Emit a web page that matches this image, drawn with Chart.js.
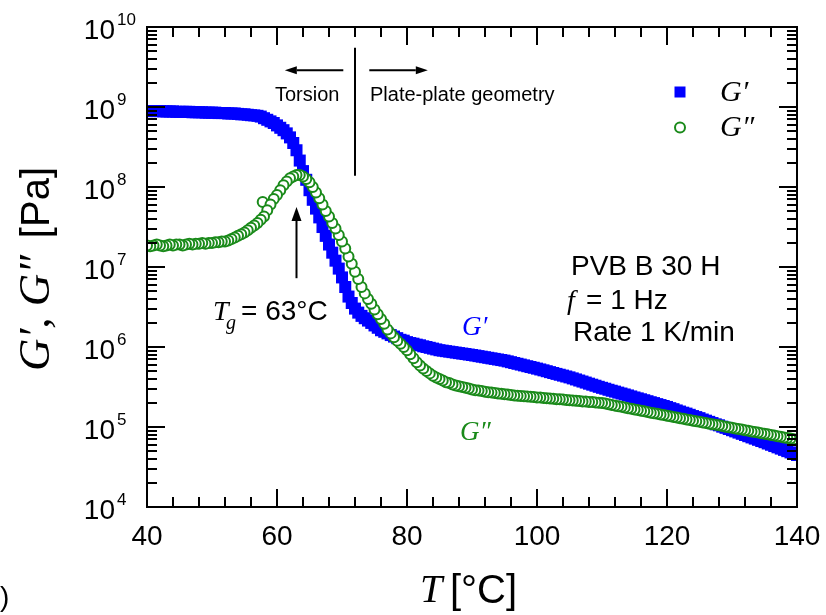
<!DOCTYPE html>
<html>
<head>
<meta charset="utf-8">
<script src="https://cdn.jsdelivr.net/npm/chart.js@4.4.0/dist/chart.umd.min.js"></script>
<style>
  html, body { margin: 0; padding: 0; background: #fff; }
  #wrap { width: 826px; height: 615px; position: relative; }
</style>
</head>
<body>
<div id="wrap"><canvas id="chart"></canvas></div>
<script>
// temperature [°C], one reading every 0.5 K
const temps = [
  40, 40.5, 41, 41.5, 42, 42.5, 43, 43.5, 44, 44.5,
  45, 45.5, 46, 46.5, 47, 47.5, 48, 48.5, 49, 49.5,
  50, 50.5, 51, 51.5, 52, 52.5, 53, 53.5, 54, 54.5,
  55, 55.5, 56, 56.5, 57, 57.5, 58, 58.5, 59, 59.5,
  60, 60.5, 61, 61.5, 62, 62.5, 63, 63.5, 64, 64.5,
  65, 65.5, 66, 66.5, 67, 67.5, 68, 68.5, 69, 69.5,
  70, 70.5, 71, 71.5, 72, 72.5, 73, 73.5, 74, 74.5,
  75, 75.5, 76, 76.5, 77, 77.5, 78, 78.5, 79, 79.5,
  80, 80.5, 81, 81.5, 82, 82.5, 83, 83.5, 84, 84.5,
  85, 85.5, 86, 86.5, 87, 87.5, 88, 88.5, 89, 89.5,
  90, 90.5, 91, 91.5, 92, 92.5, 93, 93.5, 94, 94.5,
  95, 95.5, 96, 96.5, 97, 97.5, 98, 98.5, 99, 99.5,
  100, 100.5, 101, 101.5, 102, 102.5, 103, 103.5, 104, 104.5,
  105, 105.5, 106, 106.5, 107, 107.5, 108, 108.5, 109, 109.5,
  110, 110.5, 111, 111.5, 112, 112.5, 113, 113.5, 114, 114.5,
  115, 115.5, 116, 116.5, 117, 117.5, 118, 118.5, 119, 119.5,
  120, 120.5, 121, 121.5, 122, 122.5, 123, 123.5, 124, 124.5,
  125, 125.5, 126, 126.5, 127, 127.5, 128, 128.5, 129, 129.5,
  130, 130.5, 131, 131.5, 132, 132.5, 133, 133.5, 134, 134.5,
  135, 135.5, 136, 136.5, 137, 137.5, 138, 138.5, 139, 139.5,
  140
];

// G' storage modulus [Pa]
const storageModulus = [
  8.9e8, 8.9e8, 8.9e8, 8.9e8, 8.9e8, 8.8e8, 8.8e8, 8.8e8, 8.8e8, 8.7e8,
  8.7e8, 8.7e8, 8.7e8, 8.7e8, 8.6e8, 8.6e8, 8.6e8, 8.6e8, 8.5e8, 8.5e8,
  8.5e8, 8.5e8, 8.4e8, 8.4e8, 8.4e8, 8.3e8, 8.3e8, 8.3e8, 8.2e8, 8.1e8,
  8.1e8, 8.0e8, 7.9e8, 7.85e8, 7.76e8, 7.59e8, 7.24e8, 6.92e8, 6.61e8, 6.31e8,
  5.89e8, 5.5e8, 5.13e8, 4.68e8, 4.17e8, 3.55e8, 2.88e8, 2.14e8, 1.58e8, 1.23e8,
  9.12e7, 6.92e7, 5.37e7, 4.17e7, 3.16e7, 2.45e7, 1.91e7, 1.51e7, 1.2e7, 9.55e6,
  7.41e6, 5.62e6, 4.27e6, 3.55e6, 3.02e6, 2.69e6, 2.45e6, 2.29e6, 2.14e6, 2.0e6,
  1.86e6, 1.74e6, 1.62e6, 1.55e6, 1.48e6, 1.41e6, 1.35e6, 1.29e6, 1.23e6, 1.2e6,
  1.15e6, 1.12e6, 1.1e6, 1.07e6, 1.05e6, 1.02e6, 1.0e6, 9.77e5, 9.55e5, 9.33e5,
  9.12e5, 9.0e5, 8.87e5, 8.75e5, 8.63e5, 8.51e5, 8.39e5, 8.28e5, 8.17e5, 8.05e5,
  7.94e5, 7.82e5, 7.69e5, 7.57e5, 7.45e5, 7.33e5, 7.21e5, 7.1e5, 6.98e5, 6.87e5,
  6.76e5, 6.61e5, 6.46e5, 6.31e5, 6.17e5, 6.03e5, 5.89e5, 5.75e5, 5.62e5, 5.5e5,
  5.37e5, 5.24e5, 5.11e5, 4.98e5, 4.85e5, 4.73e5, 4.61e5, 4.5e5, 4.39e5, 4.28e5,
  4.17e5, 4.05e5, 3.93e5, 3.81e5, 3.7e5, 3.59e5, 3.48e5, 3.38e5, 3.28e5, 3.18e5,
  3.09e5, 3.01e5, 2.92e5, 2.84e5, 2.77e5, 2.69e5, 2.62e5, 2.55e5, 2.48e5, 2.41e5,
  2.34e5, 2.28e5, 2.22e5, 2.16e5, 2.1e5, 2.04e5, 1.99e5, 1.93e5, 1.88e5, 1.83e5,
  1.78e5, 1.72e5, 1.67e5, 1.61e5, 1.56e5, 1.51e5, 1.47e5, 1.42e5, 1.37e5, 1.33e5,
  1.29e5, 1.24e5, 1.2e5, 1.16e5, 1.12e5, 1.08e5, 1.05e5, 1.01e5, 9.77e4, 9.44e4,
  9.12e4, 8.81e4, 8.51e4, 8.22e4, 7.94e4, 7.67e4, 7.41e4, 7.16e4, 6.92e4, 6.68e4,
  6.46e4, 6.22e4, 6.0e4, 5.78e4, 5.57e4, 5.37e4, 5.18e4, 4.99e4, 4.81e4, 4.63e4,
  4.47e4
];

// G'' loss modulus [Pa]
const lossModulus = [
  1.86e7, 1.82e7, 1.86e7, 1.91e7, 1.86e7, 1.82e7, 1.86e7, 1.91e7, 1.86e7, 1.91e7,
  1.91e7, 1.86e7, 1.91e7, 1.95e7, 1.91e7, 1.95e7, 1.95e7, 2.0e7, 1.95e7, 2.0e7,
  2.0e7, 2.04e7, 2.04e7, 2.09e7, 2.09e7, 2.14e7, 2.24e7, 2.34e7, 2.45e7, 2.57e7,
  2.69e7, 2.88e7, 3.09e7, 3.31e7, 3.55e7, 3.89e7, 4.27e7, 5.13e7, 6.03e7, 7.08e7,
  7.94e7, 9.12e7, 1.05e8, 1.17e8, 1.29e8, 1.35e8, 1.41e8, 1.41e8, 1.35e8, 1.26e8,
  1.15e8, 1.0e8, 8.51e7, 7.24e7, 6.03e7, 5.01e7, 4.27e7, 3.55e7, 3.02e7, 2.51e7,
  2.09e7, 1.7e7, 1.35e7, 1.1e7, 8.71e6, 7.08e6, 5.62e6, 4.68e6, 3.98e6, 3.47e6,
  2.95e6, 2.57e6, 2.24e6, 1.95e6, 1.66e6, 1.48e6, 1.32e6, 1.2e6, 1.1e6, 1.0e6,
  9.12e5, 8.13e5, 7.24e5, 6.46e5, 5.89e5, 5.37e5, 5.01e5, 4.68e5, 4.37e5, 4.17e5,
  3.98e5, 3.8e5, 3.63e5, 3.55e5, 3.39e5, 3.31e5, 3.24e5, 3.16e5, 3.09e5, 3.02e5,
  2.95e5, 2.88e5, 2.85e5, 2.82e5, 2.75e5, 2.72e5, 2.69e5, 2.66e5, 2.63e5, 2.6e5,
  2.57e5, 2.54e5, 2.51e5, 2.48e5, 2.45e5, 2.44e5, 2.43e5, 2.4e5, 2.39e5, 2.37e5,
  2.34e5, 2.33e5, 2.31e5, 2.29e5, 2.27e5, 2.25e5, 2.23e5, 2.22e5, 2.2e5, 2.18e5,
  2.16e5, 2.15e5, 2.13e5, 2.11e5, 2.09e5, 2.08e5, 2.06e5, 2.05e5, 2.03e5, 2.01e5,
  2.0e5, 1.96e5, 1.92e5, 1.89e5, 1.85e5, 1.82e5, 1.79e5, 1.75e5, 1.72e5, 1.69e5,
  1.66e5, 1.63e5, 1.6e5, 1.57e5, 1.54e5, 1.51e5, 1.49e5, 1.46e5, 1.43e5, 1.41e5,
  1.38e5, 1.36e5, 1.33e5, 1.31e5, 1.29e5, 1.27e5, 1.24e5, 1.22e5, 1.2e5, 1.18e5,
  1.16e5, 1.14e5, 1.12e5, 1.1e5, 1.08e5, 1.07e5, 1.05e5, 1.03e5, 1.01e5, 9.95e4,
  9.77e4, 9.6e4, 9.44e4, 9.29e4, 9.12e4, 8.97e4, 8.81e4, 8.67e4, 8.51e4, 8.37e4,
  8.22e4, 8.09e4, 7.94e4, 7.81e4, 7.67e4, 7.55e4, 7.41e4, 7.29e4, 7.16e4, 7.04e4,
  6.92e4
];

// one stray G'' reading just before the peak
const strayTemp = [57.8];
const strayLoss = [6.5e7];

const xTicks = [40, 60, 80, 100, 120, 140];
const yExponents = [4, 5, 6, 7, 8, 9, 10];

const SANS = '"Liberation Sans", Arial, sans-serif';
const SERIF = '"Liberation Serif", "Times New Roman", serif';
const BLUE = '#0000ff';
const GREEN = '#1a8a1a';

const storagePts = temps.map((t, i) => ({ x: t, y: storageModulus[i] }));
// drawn from hot to cold so the open circles overlap like the original
const lossPts = temps.map((t, i) => ({ x: t, y: lossModulus[i] }))
  .concat(strayTemp.map((t, i) => ({ x: t, y: strayLoss[i] })))
  .reverse();

const text = (ctx, str, x, y, font, color, align) => {
  ctx.font = font;
  ctx.fillStyle = color || '#000';
  ctx.textAlign = align || 'left';
  ctx.textBaseline = 'alphabetic';
  ctx.fillText(str, x, y);
};

const arrow = (ctx, x1, y1, x2, y2, head, half) => {
  const ang = Math.atan2(y2 - y1, x2 - x1);
  const bx = x2 - head * Math.cos(ang), by = y2 - head * Math.sin(ang);
  ctx.beginPath();
  ctx.moveTo(x1, y1);
  ctx.lineTo(bx, by);
  ctx.stroke();
  ctx.beginPath();
  ctx.moveTo(x2, y2);
  ctx.lineTo(bx + half * Math.sin(ang), by - half * Math.cos(ang));
  ctx.lineTo(bx - half * Math.sin(ang), by + half * Math.cos(ang));
  ctx.closePath();
  ctx.fill();
};

const decor = {
  id: 'decor',
  afterDatasetsDraw(chart) {
    const { ctx, chartArea: a, scales: { x, y } } = chart;
    ctx.save();
    ctx.strokeStyle = '#000';
    ctx.fillStyle = '#000';
    ctx.lineWidth = 2;
    ctx.lineCap = 'butt';

    // frame with inward ticks on all four sides
    ctx.strokeRect(a.left, a.top, a.right - a.left, a.bottom - a.top);
    ctx.beginPath();
    for (let t = 40; t <= 140; t += 4) {
      const px = Math.round(x.getPixelForValue(t));
      const len = (t - 40) % 20 === 0 ? 18 : 10;
      ctx.moveTo(px, a.bottom); ctx.lineTo(px, a.bottom - len);
      ctx.moveTo(px, a.top); ctx.lineTo(px, a.top + len);
    }
    for (let k = 4; k < 10; k++) {
      for (let m = 1; m < 10; m++) {
        const py = Math.round(y.getPixelForValue(m * Math.pow(10, k)));
        const len = m === 1 ? 18 : 10;
        ctx.moveTo(a.left, py); ctx.lineTo(a.left + len, py);
        ctx.moveTo(a.right, py); ctx.lineTo(a.right - len, py);
      }
    }
    ctx.stroke();

    // y tick labels 10^k
    yExponents.forEach((k) => {
      const py = y.getPixelForValue(Math.pow(10, k));
      text(ctx, '10', a.left - 32, py + 12, '28px ' + SANS, '#000', 'right');
      text(ctx, String(k), a.left - 30, py - 2, '17px ' + SANS, '#000', 'left');
    });

    // axis titles
    text(ctx, 'T', 420, 602, 'italic 40px ' + SERIF);
    text(ctx, '[°C]', 450, 603, '40px ' + SANS);
    ctx.save();
    ctx.translate(49, 0);
    ctx.rotate(-Math.PI / 2);
    const gLabel = 'G\u2032, G\u2033';
    ctx.font = 'italic 40px ' + SERIF;
    const gSize = Math.min(48, 40 * 116 / ctx.measureText(gLabel).width);
    text(ctx, gLabel, -371, 0, 'italic ' + gSize.toFixed(1) + 'px ' + SERIF);
    text(ctx, '[Pa]', -167, 0, '40px ' + SANS, '#000', 'right');
    ctx.restore();
    text(ctx, ')', 0, 606, '28px ' + SANS);

    // geometry change marker at 72 °C
    const xs = x.getPixelForValue(72);
    ctx.beginPath();
    ctx.moveTo(xs, y.getPixelForValue(Math.pow(10, 9.74)));
    ctx.lineTo(xs, y.getPixelForValue(Math.pow(10, 8.14)));
    ctx.stroke();
    const ya = y.getPixelForValue(Math.pow(10, 9.46));
    arrow(ctx, x.getPixelForValue(70.2), ya, x.getPixelForValue(61.2), ya, 12, 4);
    arrow(ctx, x.getPixelForValue(74.2), ya, x.getPixelForValue(83.2), ya, 12, 4);
    text(ctx, 'Torsion', 275, 101, '20px ' + SANS);
    text(ctx, 'Plate-plate geometry', 370, 101, '20px ' + SANS);

    // Tg marker
    const xg = x.getPixelForValue(63);
    arrow(ctx, xg, y.getPixelForValue(Math.pow(10, 6.86)), xg, y.getPixelForValue(Math.pow(10, 7.75)), 14, 5);
    text(ctx, 'T', 213, 320, 'italic 28px ' + SERIF);
    text(ctx, 'g', 226, 329, 'italic 20px ' + SERIF);
    text(ctx, '= 63°C', 241, 320, '28px ' + SANS);

    // sample info
    text(ctx, 'PVB B 30 H', 571, 275, '28px ' + SANS);
    text(ctx, 'f', 567, 309, 'italic 28px ' + SERIF);
    text(ctx, '= 1 Hz', 586, 309, '28px ' + SANS);
    text(ctx, 'Rate 1 K/min', 573, 341, '28px ' + SANS);

    // curve labels
    text(ctx, 'G\u2032', 462, 335, 'italic 27px ' + SERIF, BLUE);
    text(ctx, 'G\u2033', 460, 440, 'italic 27px ' + SERIF, GREEN);

    // legend
    ctx.fillStyle = BLUE;
    ctx.fillRect(674.5, 86.5, 11, 11);
    ctx.strokeStyle = GREEN;
    ctx.lineWidth = 2;
    ctx.beginPath();
    ctx.arc(680, 127.5, 5, 0, Math.PI * 2);
    ctx.stroke();
    text(ctx, 'G\u2032', 720, 101, 'italic 30px ' + SERIF);
    text(ctx, 'G\u2033', 720, 136, 'italic 30px ' + SERIF);
    ctx.restore();
  },
};

new Chart(document.getElementById('chart'), {
  type: 'scatter',
  data: {
    datasets: [
      {
        label: 'G\u2032',
        data: storagePts,
        pointStyle: 'rect',
        pointRadius: 8.5,
        pointBorderWidth: 0,
        backgroundColor: BLUE,
        borderColor: BLUE,
        borderWidth: 0,
        clip: 0,
        order: 1,
      },
      {
        label: 'G\u2033',
        data: lossPts,
        pointStyle: 'circle',
        pointRadius: 5,
        pointBorderWidth: 2,
        backgroundColor: '#ffffff',
        borderColor: GREEN,
        clip: 0,
        order: 0,
      },
    ],
  },
  options: {
    responsive: true,
    maintainAspectRatio: false,
    animation: false,
    layout: { padding: { left: 0, right: 29, top: 27, bottom: 0 } },
    plugins: {
      legend: { display: false },
      tooltip: { enabled: false },
    },
    scales: {
      x: {
        type: 'linear',
        min: 40,
        max: 140,
        afterBuildTicks: (s) => { s.ticks = xTicks.map((v) => ({ value: v })); },
        afterFit: (s) => {
          s.height = 108;
          s.paddingLeft = 0;
          s.paddingRight = 0;
        },
        grid: { display: false, drawTicks: false },
        border: { display: false },
        ticks: {
          color: '#000',
          padding: 13,
          font: { family: 'Liberation Sans', size: 28 },
        },
      },
      y: {
        type: 'logarithmic',
        min: 1e4,
        max: 1e10,
        afterFit: (s) => {
          s.width = 147;
          s.paddingTop = 0;
          s.paddingBottom = 0;
        },
        grid: { display: false, drawTicks: false },
        border: { display: false },
        ticks: { display: false },
      },
    },
  },
  plugins: [decor],
});
</script>
</body>
</html>
